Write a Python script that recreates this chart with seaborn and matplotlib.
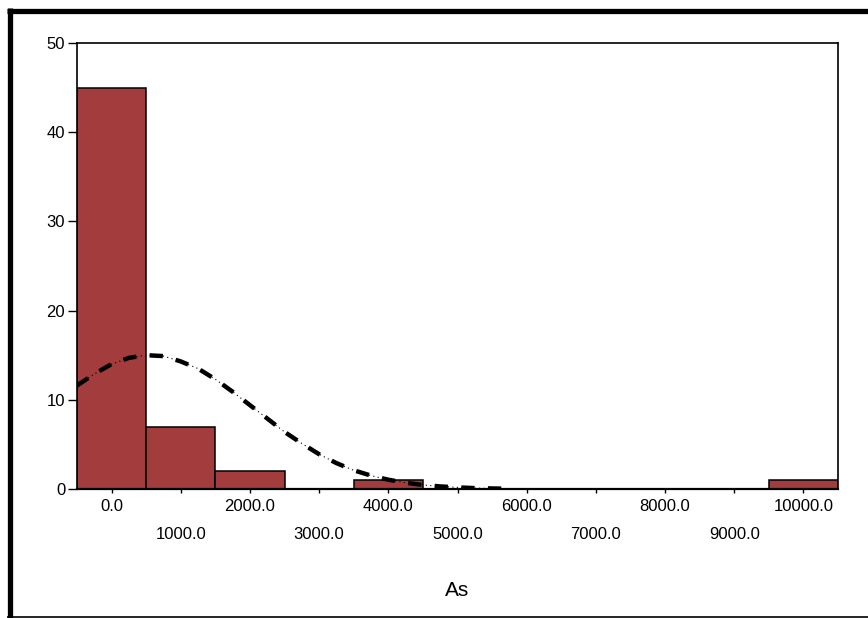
import matplotlib

matplotlib.use('Agg')
import matplotlib.pyplot as plt
import numpy as np
import seaborn as sns
from matplotlib.lines import Line2D

# histogram of As (bin width 1000, centred on the thousands)
bin_centers = [0, 1000, 2000, 3000, 4000, 5000, 6000, 7000, 8000, 9000, 10000]
bin_counts = [45, 7, 2, 0, 1, 0, 0, 0, 0, 0, 1]
bin_edges = [-500, 500, 1500, 2500, 3500, 4500, 5500, 6500, 7500, 8500, 9500, 10500]

# fitted normal curve
curve_x = [-500, -250, 0, 250, 500, 750, 1000, 1250, 1500, 1750, 2000, 2250, 2500,
           2750, 3000, 3250, 3500, 3750, 4000, 4250, 4500, 4750, 5000, 5250, 5500, 5750]
curve_y = [11.6, 12.9, 14.0, 14.7, 15.0, 14.9, 14.3, 13.5, 12.3, 10.9, 9.4, 7.9, 6.4,
           5.1, 3.9, 2.9, 2.1, 1.5, 1.04, 0.7, 0.45, 0.29, 0.18, 0.1, 0.06, 0.03]

x_ticks = [0, 1000, 2000, 3000, 4000, 5000, 6000, 7000, 8000, 9000, 10000]
y_ticks = [0, 10, 20, 30, 40, 50]

sns.set_style('white')
plt.rcParams['font.family'] = ['Liberation Sans', 'DejaVu Sans']
plt.rcParams['text.color'] = 'black'
plt.rcParams['axes.labelcolor'] = 'black'

fig = plt.figure(figsize=(8.68, 6.18), dpi=100)
ax = fig.add_axes([77 / 868, 1 - 489 / 618, (838 - 77) / 868, (489 - 43) / 618])

sns.histplot(x=bin_centers, weights=bin_counts, bins=bin_edges, ax=ax,
             color='#a23c3d', alpha=1, edgecolor='black', linewidth=1.1)

# dash-dot style: thin dotted line under thick dashes
sns.lineplot(x=curve_x, y=curve_y, ax=ax, color='black', linewidth=0.8,
             linestyle=(0, (1, 3)), sort=False)
sns.lineplot(x=curve_x, y=curve_y, ax=ax, color='black', linewidth=3.2,
             linestyle=(0, (3, 3)), sort=False)

ax.set_xlim(-500, 10500)
ax.set_ylim(0, 50)
ax.set_yticks(y_ticks)
ax.set_yticklabels([str(v) for v in y_ticks])
ax.set_xticks(x_ticks)
labels = []
for i, v in enumerate(x_ticks):
    txt = f'{v:.1f}'
    labels.append(txt if i % 2 == 0 else '\n' + txt)
ax.set_xticklabels(labels)
for lbl in ax.get_xticklabels():
    lbl.set_linespacing(2.1)

ax.tick_params(axis='y', length=6.5, width=1, direction='out', pad=2, labelsize=12,
               left=True, colors='black')
ax.tick_params(axis='x', length=3, width=1, direction='out', pad=4, labelsize=12,
               bottom=True, colors='black')

for side in ['left', 'right', 'top', 'bottom']:
    ax.spines[side].set_visible(True)
    ax.spines[side].set_color('black')
    ax.spines[side].set_linewidth(1.2)
ax.spines['bottom'].set_linewidth(1.6)

ax.set_ylabel('')
ax.set_xlabel('As', fontsize=15, va='center', color='black')
ax.xaxis.set_label_coords(0.5, -101 / 446)

# outer frame of the original figure
fig.add_artist(Line2D([7 / 868, 1], [1 - 10.5 / 618] * 2, color='black', linewidth=3.8,
                      solid_capstyle='butt', transform=fig.transFigure))
fig.add_artist(Line2D([10 / 868] * 2, [1 - 8 / 618, 0], color='black', linewidth=3.8,
                      solid_capstyle='butt', transform=fig.transFigure))
fig.add_artist(Line2D([7 / 868, 1], [0.8 / 618] * 2, color='black', linewidth=1.2,
                      solid_capstyle='butt', transform=fig.transFigure))

fig.savefig('out.png', dpi=100)
